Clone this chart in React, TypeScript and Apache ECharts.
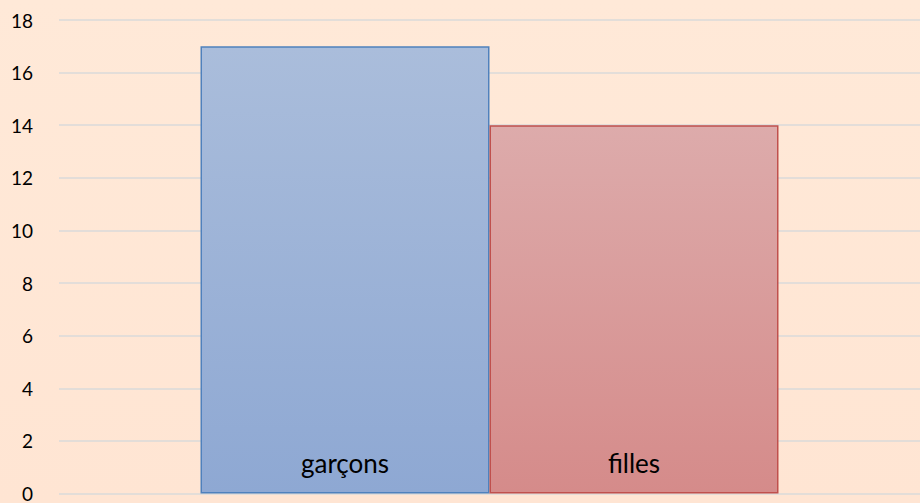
import React, { useEffect, useRef } from "react";
import * as echarts from "echarts";

const seriesNames = ["garçons", "filles"];
const seriesValues = [17, 14];
const categories = [""];
const yTicks = [0, 2, 4, 6, 8, 10, 12, 14, 16, 18];

const topColors = ["#AABDDB", "#DDABAB"];
const bottomColors = ["#8EA8D3", "#D58B8A"];
const borderColors = ["#4F81BD", "#C0504D"];

export default function App() {
  const ref = useRef<HTMLDivElement>(null);
  useEffect(() => {
    if (!ref.current) return;
    const chart = echarts.init(ref.current, null, { renderer: "svg" });
    chart.setOption({
      animation: false,
      backgroundColor: {
        type: "linear", x: 0, y: 0, x2: 0, y2: 1,
        colorStops: [
          { offset: 0, color: "#FFE9D8" },
          { offset: 1, color: "#FFE5D3" },
        ],
      },
      grid: { left: 59, right: 0, top: 20, bottom: 7, containLabel: false },
      xAxis: {
        type: "category",
        data: categories,
        axisLine: { show: false },
        axisTick: { show: false },
        axisLabel: { show: false },
      },
      yAxis: {
        type: "value",
        min: yTicks[0],
        max: yTicks[yTicks.length - 1],
        interval: 2,
        axisLine: { show: false },
        axisTick: { show: false },
        axisLabel: {
          color: "#000",
          fontFamily: "Lato, 'Open Sans', sans-serif",
          fontSize: 19,
          margin: 26,
        },
        splitLine: { lineStyle: { color: "#DADADA", width: 1.5 } },
      },
      series: seriesNames.map((name, i) => ({
        name,
        type: "bar",
        data: [seriesValues[i]],
        barWidth: 289,
        barGap: "0%",
        itemStyle: {
          color: {
            type: "linear", x: 0, y: 0, x2: 0, y2: 1,
            colorStops: [
              { offset: 0, color: topColors[i] },
              { offset: 1, color: bottomColors[i] },
            ],
          },
          borderColor: borderColors[i],
          borderWidth: 1.5,
        },
        label: {
          show: true,
          position: "insideBottom",
          distance: 18,
          formatter: name,
          color: "#000",
          fontFamily: "Lato, 'Open Sans', sans-serif",
          fontSize: 26,
        },
      })),
    });
    return () => chart.dispose();
  }, []);
  return (
    <div
      ref={ref}
      style={{ position: "fixed", left: 0, top: 0, width: 920, height: 503 }}
    />
  );
}
